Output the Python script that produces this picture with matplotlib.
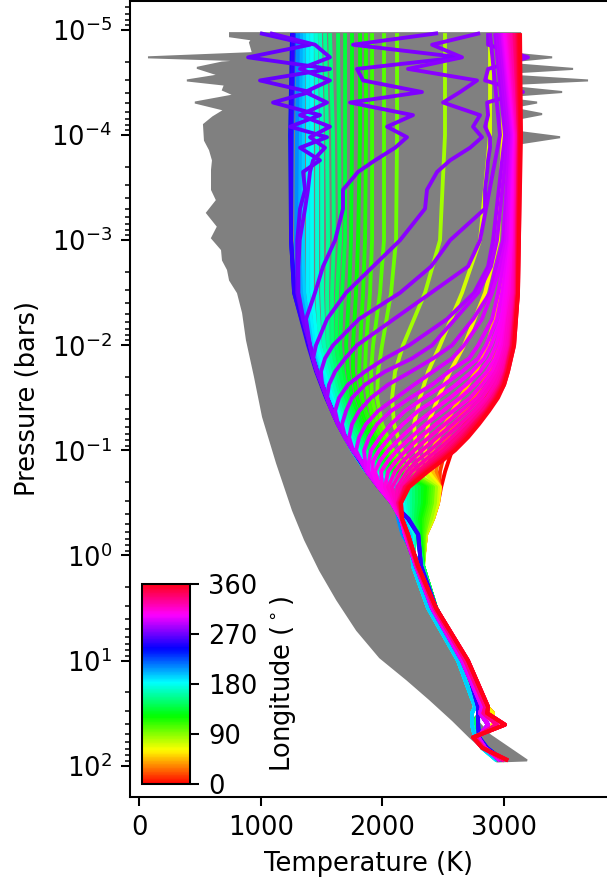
import numpy as np
import matplotlib
matplotlib.use('Agg')
import matplotlib.pyplot as plt
from matplotlib.ticker import LogLocator, NullFormatter

# Pressure levels, log10(bar)
main_logp = [-4.97, -4, -3, -2.5, -2, -1.75, -1.5, -1.25, -1, -0.8, -0.65, -0.5, -0.35, -0.2]
morning_logp = [-4.97, -4, -3, -2.75, -2.5, -2.25, -2, -1.875, -1.75, -1.625, -1.5, -1.375, -1.25,
                -1.125, -1, -0.9, -0.8, -0.65, -0.5, -0.35, -0.2]
zig_logp = [-4.97, -4.86, -4.74, -4.63, -4.52, -4.41, -4.31, -4.19, -4.08, -3.98, -3.88, -3.76, -3.65, -3.48, -3.3]
deep_logp = [0.1, 0.5, 1.0, 1.44, 1.5, 1.61, 1.73, 1.83, 1.95]

# Deep part of the profiles, shared by neighbouring longitudes
deep_yellow = [2330, 2440, 2690, 2860, 2909, 2909, 2745, 2830, 3000]
deep_green = [2334, 2440, 2671, 2810, 2794, 2753, 2753, 2835, 2966]
deep_cyan = [2251, 2375, 2621, 2761, 2736, 2736, 2761, 2818, 2941]
deep_blue = [2317, 2440, 2679, 2786, 2786, 2786, 2794, 2859, 2991]
deep_purple = [2276, 2408, 2654, 2818, 2802, 2868, 2786, 2843, 2966]
deep_rose = [2284, 2425, 2680, 2845, 2830, 2940, 2760, 2830, 3000]
deep_red = [2292, 2440, 2703, 2868, 2860, 3007, 2745, 2820, 3032]

# Cold edge of the fan, on morning_logp from 1e-3 bar down
envelope_temps = [1249, 1265, 1290, 1345, 1405, 1430, 1463, 1504, 1545, 1586, 1635, 1693, 1758,
                  1824, 1873, 1972, 2079, 2153, 2186]

# Afternoon side, hot to cold with longitude
afternoon_lons = [0, 15, 30, 45, 60, 72, 84, 96, 102, 108, 114, 120, 127, 135, 142, 150, 157,
                  165, 172, 180, 187, 195, 202, 210, 225, 240, 255]
afternoon_temps = [
    [3122, 3106, 3114, 3098, 3065, 3016, 2925, 2753, 2572, 2515, 2482, 2457, 2416, 2358],
    [3114, 3098, 3106, 3082, 3032, 2966, 2851, 2679, 2514, 2473, 2465, 2457, 2416, 2358],
    [3098, 3090, 3082, 3049, 2966, 2876, 2753, 2597, 2473, 2440, 2473, 2457, 2416, 2358],
    [3073, 3065, 3049, 2983, 2860, 2769, 2638, 2514, 2408, 2408, 2473, 2457, 2416, 2358],
    [3007, 2991, 2950, 2843, 2671, 2556, 2457, 2375, 2350, 2375, 2473, 2457, 2416, 2358],
    [2884, 2884, 2802, 2654, 2473, 2375, 2309, 2260, 2276, 2334, 2457, 2449, 2416, 2358],
    [2514, 2514, 2473, 2350, 2169, 2104, 2079, 2095, 2161, 2260, 2440, 2432, 2400, 2350],
    [2120, 2120, 2112, 2071, 1997, 1964, 1956, 1997, 2087, 2210, 2416, 2408, 2375, 2342],
    [2013, 2013, 2013, 1980, 1923, 1906, 1914, 1964, 2062, 2186, 2400, 2391, 2358, 2334],
    [1915, 1915, 1915, 1898, 1865, 1857, 1882, 1931, 2030, 2161, 2383, 2375, 2342, 2325],
    [1865, 1865, 1857, 1841, 1816, 1808, 1833, 1898, 2005, 2136, 2366, 2358, 2325, 2317],
    [1816, 1816, 1800, 1783, 1758, 1758, 1791, 1865, 1980, 2112, 2350, 2342, 2309, 2309],
    [1750, 1750, 1742, 1726, 1701, 1717, 1750, 1832, 1947, 2087, 2325, 2317, 2293, 2301],
    [1693, 1693, 1693, 1668, 1652, 1676, 1717, 1800, 1915, 2062, 2301, 2301, 2276, 2293],
    [1635, 1643, 1652, 1627, 1619, 1652, 1693, 1775, 1890, 2030, 2276, 2276, 2260, 2284],
    [1569, 1594, 1602, 1586, 1586, 1619, 1668, 1750, 1865, 2005, 2251, 2251, 2243, 2276],
    [1528, 1545, 1553, 1545, 1553, 1594, 1643, 1726, 1841, 1980, 2227, 2227, 2227, 2268],
    [1487, 1504, 1504, 1504, 1520, 1569, 1627, 1701, 1816, 1947, 2202, 2210, 2210, 2260],
    [1454, 1463, 1463, 1463, 1487, 1545, 1602, 1684, 1791, 1923, 2178, 2186, 2202, 2250],
    [1421, 1421, 1421, 1421, 1463, 1520, 1586, 1668, 1775, 1898, 2160, 2170, 2190, 2240],
    [1388, 1388, 1388, 1388, 1438, 1495, 1569, 1652, 1767, 1882, 2140, 2150, 2180, 2235],
    [1356, 1348, 1348, 1356, 1421, 1479, 1553, 1635, 1750, 1865, 2120, 2135, 2170, 2230],
    [1331, 1323, 1315, 1331, 1405, 1471, 1545, 1635, 1758, 1873, 1980, 2112, 2130, 2165],
    [1306, 1298, 1290, 1306, 1397, 1463, 1545, 1635, 1758, 1873, 1972, 2104, 2130, 2165],
    [1274, 1257, 1249, 1282, 1397, 1463, 1545, 1635, 1758, 1873, 1972, 2087, 2210, 2293],
    [1257, 1241, 1249, 1274, 1397, 1463, 1545, 1635, 1758, 1873, 1972, 2087, 2210, 2293],
    [1265, 1249, 1249, 1274, 1389, 1455, 1537, 1635, 1758, 1873, 1972, 2079, 2215, 2295],
]

# Morning side, branching off the cold envelope, on morning_logp
morning_lons = [282, 285, 288, 291, 294, 297, 300, 303, 306, 309, 312, 315, 318, 322, 326, 332,
                338, 344, 350, 355, 360]
morning_temps = [
    [2884, 2966, 2802, 2703, 2400, 2095, 1791, 1693, 1611, 1561] + envelope_temps[8:],
    [2925, 3007, 2909, 2868, 2753, 2531, 2219, 2021, 1857, 1717, 1643, 1611] + envelope_temps[10:],
    [2941, 3032, 2941, 2892, 2786, 2597, 2408, 2243, 2021, 1857, 1750, 1701, 1668] + envelope_temps[11:],
    [2966, 3049, 2991, 2933, 2884, 2745, 2572, 2416, 2235, 2046, 1906, 1808, 1750, 1726] + envelope_temps[12:],
    [2983, 3065, 3016, 2966, 2901, 2818, 2671, 2572, 2416, 2260, 2112, 1964, 1865, 1808, 1783, 1824] + envelope_temps[14:],
    [2991, 3073, 3032, 2991, 2950, 2901, 2786, 2712, 2547, 2408, 2227, 2071, 1956, 1890, 1849, 1857] + envelope_temps[14:],
    [3000, 3082, 3049, 3016, 2983, 2941, 2851, 2786, 2654, 2506, 2342, 2186, 2071, 1980, 1906, 1890, 1882] + envelope_temps[15:],
    [3007, 3090, 3057, 3032, 3007, 2975, 2892, 2835, 2736, 2605, 2457, 2293, 2169, 2062, 1972, 1923, 1915, 1972, 2079, 2153, 2186],
    [3016, 3090, 3065, 3045, 3024, 2991, 2933, 2884, 2802, 2687, 2556, 2408, 2268, 2153, 2046, 1980, 1939, 1980, 2079, 2153, 2186],
    [3024, 3098, 3073, 3057, 3040, 3007, 2966, 2925, 2860, 2761, 2638, 2498, 2358, 2235, 2120, 2046, 1989, 1997, 2087, 2155, 2190],
    [3032, 3098, 3082, 3065, 3049, 3024, 2991, 2950, 2901, 2818, 2720, 2580, 2440, 2309, 2194, 2112, 2046, 2021, 2095, 2155, 2190],
    [3040, 3106, 3090, 3078, 3065, 3032, 3007, 2975, 2933, 2860, 2777, 2646, 2514, 2383, 2260, 2169, 2104, 2046, 2104, 2155, 2195],
    [3049, 3106, 3090, 3082, 3073, 3049, 3024, 2991, 2958, 2892, 2818, 2703, 2580, 2449, 2325, 2227, 2153, 2079, 2112, 2158, 2195],
    [3057, 3114, 3098, 3090, 3082, 3061, 3040, 3007, 2975, 2925, 2860, 2753, 2638, 2514, 2391, 2284, 2202, 2120, 2120, 2158, 2200],
    [3065, 3114, 3098, 3094, 3090, 3069, 3049, 3024, 2991, 2950, 2884, 2794, 2687, 2572, 2449, 2342, 2243, 2153, 2128, 2158, 2200],
    [3082, 3122, 3106, 3102, 3098, 3078, 3057, 3032, 3007, 2966, 2901, 2818, 2720, 2613, 2498, 2391, 2293, 2178, 2128, 2161, 2205],
    [3090, 3122, 3106, 3106, 3106, 3086, 3065, 3040, 3016, 2975, 2917, 2843, 2745, 2646, 2539, 2424, 2317, 2186, 2136, 2161, 2205],
    [3106, 3122, 3114, 3110, 3106, 3086, 3065, 3040, 3016, 2983, 2925, 2851, 2753, 2663, 2556, 2449, 2334, 2186, 2145, 2161, 2210],
    [3114, 3131, 3114, 3114, 3114, 3094, 3073, 3049, 3024, 2991, 2933, 2860, 2769, 2679, 2572, 2465, 2350, 2202, 2145, 2161, 2210],
    [3122, 3131, 3122, 3118, 3114, 3098, 3082, 3057, 3032, 3000, 2941, 2868, 2786, 2696, 2588, 2482, 2366, 2210, 2153, 2161, 2210],
    [3131, 3139, 3122, 3118, 3114, 3098, 3082, 3057, 3032, 3000, 2950, 2876, 2794, 2704, 2597, 2490, 2375, 2219, 2153, 2161, 2210],
]

# Noisy profiles near the terminator: zig levels first, then morning levels from 1e-3 bar down
zigzag_lons = [268, 271, 274, 276, 279]
zigzag_temps = [
    [994, 1405, 896, 1569, 994, 1405, 1101, 1487, 1241, 1545, 1323, 1487, 1348, 1364, 1323,
     1300, 1300, 1300, 1345] + envelope_temps[4:],
    [1076, 1446, 1569, 1323, 1569, 1364, 1545, 1323, 1569, 1405, 1528, 1430, 1405, 1388, 1364,
     1320, 1310, 1310, 1350] + envelope_temps[4:],
    [2457, 1758, 2638, 1791, 1841, 2325, 1734, 2251, 2038, 2202, 2104, 1939, 1800, 1676, 1676,
     1611, 1512, 1446, 1372] + envelope_temps[4:],
    [2802, 2408, 2654, 2210, 2777, 2638, 2498, 2802, 2744, 2818, 2720, 2556, 2449, 2366, 2350,
     2145, 1923, 1701, 1545, 1454] + envelope_temps[5:],
    [2868, 2868, 3196, 2868, 2843, 3155, 2860, 2868, 2843, 2884, 2884, 2868, 2860, 2843, 2843,
     2556, 2400, 2145, 1808, 1594, 1528, 1495] + envelope_temps[7:],
]

# Grey band of all the other latitudes
grey_left_logp = [-4.97, -4.94, -4.91, -4.88, -4.78, -4.74, -4.71, -4.69, -4.64, -4.57, -4.52, -4.48,
                  -4.43, -4.38, -4.31, -4.24, -4.17, -4.10, -3.95, -3.86, -3.76, -3.67, -3.48, -3.38,
                  -3.26, -3.13, -3.02, -2.91, -2.81, -2.72, -2.62, -2.5, -2.31, -2.05, -1.70, -1.32,
                  -0.88, -0.43, -0.15, 0.14, 0.42, 0.71, 0.97, 1.18, 1.37, 1.57, 1.73, 1.96]
grey_left_temp = [748, 748, 929, 912, 937, 74, 912, 682, 477, 666, 394, 707,
                  690, 789, 460, 707, 608, 534, 542, 583, 608, 600, 600, 641,
                  559, 649, 600, 682, 690, 731, 748, 813, 855, 887, 953, 1019,
                  1134, 1265, 1364, 1487, 1627, 1791, 1980, 2202, 2391, 2580, 2720, 2942]
grey_right_logp = [1.95, 1.71, 1.52, 1.21, 0.68, 0.17, -0.15, -0.43, -0.56, -1.0, -1.25, -1.5, -1.75,
                   -2.0, -2.5, -3.0, -3.92, -3.98, -4.03, -4.16, -4.2, -4.24, -4.28, -4.31, -4.33,
                   -4.38, -4.41, -4.45, -4.49, -4.52, -4.56, -4.60, -4.63, -4.67, -4.71, -4.74,
                   -4.77, -4.97]
grey_right_temp = [3188, 2884, 2736, 2720, 2449, 2268, 2186, 2128, 2145, 2531, 2753, 2925, 3007,
                   3065, 3098, 3114, 3122, 3459, 3122, 3131, 3311, 3131, 3131, 3270, 3131,
                   3131, 3476, 3131, 3131, 3689, 3131, 3131, 3566, 3131, 3131, 3394,
                   3131, 3131]

y_ticks = [1e-5, 1e-4, 1e-3, 1e-2, 1e-1, 1e0, 1e1, 1e2]


def deep_for(lon):
    if lon < 70:
        return deep_yellow
    if lon <= 150:
        return deep_green
    if lon <= 200:
        return deep_cyan
    if lon < 262:
        return deep_blue
    if lon < 300:
        return deep_purple
    if lon < 335:
        return deep_rose
    return deep_red


# Collect all the profiles so they can be drawn in order of longitude
profiles = []
for lon, temps in zip(afternoon_lons, afternoon_temps):
    profiles.append((lon, main_logp + deep_logp, temps + deep_for(lon)))
for lon, temps in zip(morning_lons, morning_temps):
    profiles.append((lon, morning_logp + deep_logp, temps + deep_for(lon)))
for lon, temps in zip(zigzag_lons, zigzag_temps):
    profiles.append((lon, zig_logp + morning_logp[2:] + deep_logp, temps + deep_for(lon)))
profiles.sort(key=lambda p: p[0])

dpi = 185
fig = plt.figure(figsize=(607 / dpi, 884 / dpi), dpi=dpi)
ax = fig.add_axes([130 / 607, 1 - 797 / 884, 477 / 607, 796 / 884])

grey_t = grey_left_temp + grey_right_temp
grey_p = 10.0 ** np.array(grey_left_logp + grey_right_logp)
ax.fill(grey_t, grey_p, color='gray', lw=0.8, zorder=1)

cmap = plt.get_cmap('hsv')
for lon, logp, temps in profiles:
    ax.plot(temps, 10.0 ** np.array(logp), color=cmap(lon / 360), lw=1.5, zorder=2,
            solid_capstyle='butt')

ax.set_yscale('log')
ax.set_xlim(-74, 3845)
ax.set_ylim(10 ** 2.298, 10 ** -5.276)
ax.set_xticks([0, 1000, 2000, 3000])
ax.set_yticks(y_ticks)
ax.yaxis.set_minor_locator(LogLocator(base=10, subs=np.arange(2, 10) * 0.1, numticks=15))
ax.yaxis.set_minor_formatter(NullFormatter())
ax.spines['right'].set_visible(False)
ax.set_xlabel('Temperature (K)')
ax.set_ylabel('Pressure (bars)')

# Colorbar inside the axes, lower left
cax = fig.add_axes([142 / 607, 1 - 784 / 884, 48 / 607, 200 / 884])
sm = plt.cm.ScalarMappable(cmap=cmap, norm=plt.Normalize(0, 360))
cbar = fig.colorbar(sm, cax=cax)
cbar.set_ticks([0, 90, 180, 270, 360])
cbar.set_label(r'Longitude ($^\circ$)')

fig.savefig('out.png', dpi=dpi)
